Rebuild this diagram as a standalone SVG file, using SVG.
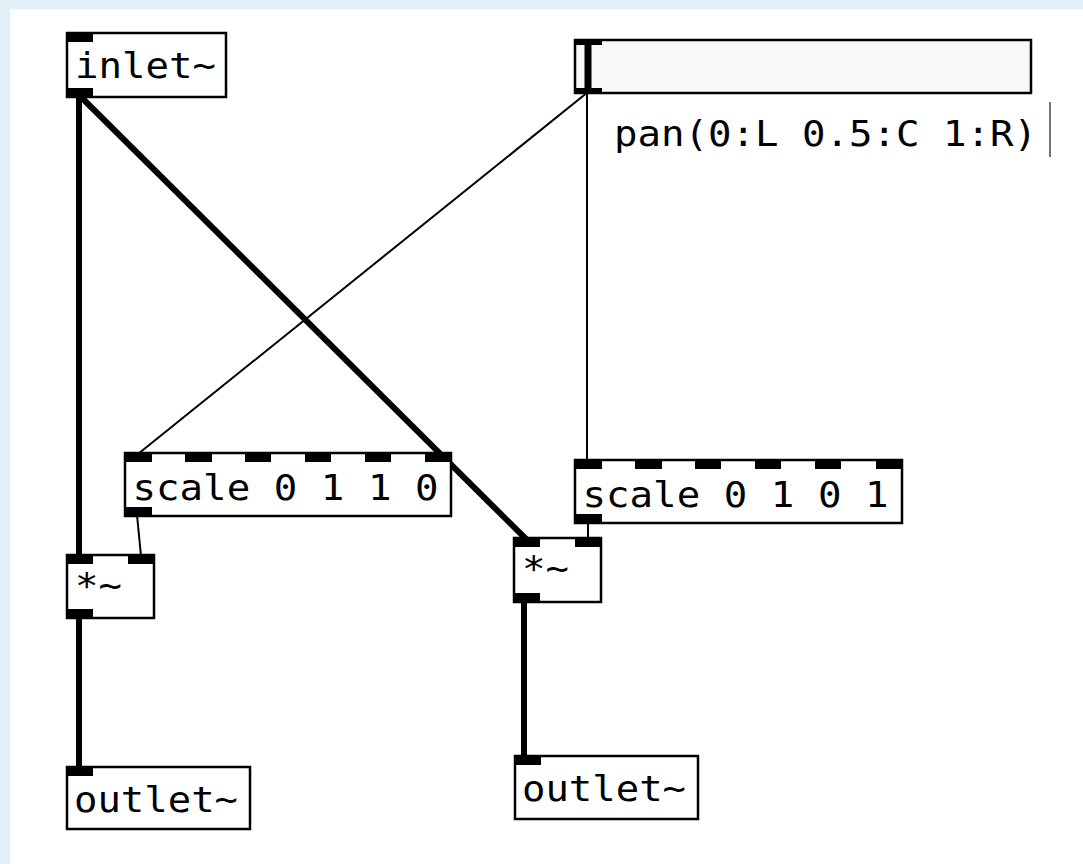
<svg xmlns="http://www.w3.org/2000/svg" width="1083" height="864" viewBox="0 0 1083 864">
<style>
.box{fill:#fff;stroke:#000;stroke-width:2.5}
.tab{fill:#000}
.t{font-family:"DejaVu Sans Mono","Liberation Mono",monospace;font-size:35px;fill:#000}
.thin{stroke:#000;stroke-width:2;fill:none}
.thick{stroke:#000;stroke-width:6;fill:none}
</style>
<rect width="1083" height="864" fill="#e3f0f8"/>
<rect x="10" y="9" width="1073" height="855" fill="#fff"/>
<g id="connectors">
<line class="thick" x1="79" y1="96" x2="79" y2="556"/>
<line class="thick" x1="80" y1="96" x2="526" y2="539"/>
<line class="thin" x1="588" y1="92" x2="138" y2="454"/>
<line class="thin" x1="587" y1="92" x2="587" y2="461"/>
<line class="thin" x1="137" y1="515" x2="141" y2="556"/>
<line class="thin" x1="588" y1="522" x2="588" y2="539"/>
<line class="thick" x1="79" y1="617" x2="79" y2="768"/>
<line class="thick" x1="524" y1="601" x2="524" y2="757"/>
</g>
<g id="inlet">
<rect class="box" x="67" y="33" width="159" height="64"/>
<rect class="tab" x="67" y="33" width="26" height="9"/>
<rect class="tab" x="67" y="88" width="26" height="9"/>
<text class="t" x="75" y="78" textLength="141" lengthAdjust="spacingAndGlyphs">inlet~</text>
</g>
<g id="slider">
<rect x="575" y="40" width="456" height="53" fill="#f8f8f8" stroke="#000" stroke-width="2.5"/>
<rect class="tab" x="575" y="40" width="27" height="5"/>
<rect class="tab" x="575" y="88" width="27" height="5"/>
<rect class="tab" x="584.5" y="40" width="7" height="53"/>
<text class="t" x="614" y="146" textLength="423" lengthAdjust="spacingAndGlyphs">pan(0:L 0.5:C 1:R)</text>
<line x1="1050" y1="102" x2="1050" y2="157" stroke="#444" stroke-width="1.5"/>
</g>
<g id="scale1">
<rect class="box" x="125" y="453" width="326" height="63"/>
<rect class="tab" x="125" y="453" width="27" height="9"/>
<rect class="tab" x="185" y="453" width="27" height="9"/>
<rect class="tab" x="245" y="453" width="26" height="9"/>
<rect class="tab" x="305" y="453" width="26" height="9"/>
<rect class="tab" x="365" y="453" width="26" height="9"/>
<rect class="tab" x="425" y="453" width="26" height="9"/>
<rect class="tab" x="125" y="507" width="27" height="9"/>
<text class="t" x="132.5" y="500" textLength="306" lengthAdjust="spacingAndGlyphs">scale 0 1 1 0</text>
</g>
<g id="scale2">
<rect class="box" x="575" y="460" width="327" height="63"/>
<rect class="tab" x="575" y="460" width="27" height="9"/>
<rect class="tab" x="635" y="460" width="27" height="9"/>
<rect class="tab" x="695" y="460" width="26" height="9"/>
<rect class="tab" x="755" y="460" width="26" height="9"/>
<rect class="tab" x="815" y="460" width="26" height="9"/>
<rect class="tab" x="876" y="460" width="26" height="9"/>
<rect class="tab" x="575" y="514" width="27" height="9"/>
<text class="t" x="582.5" y="507" textLength="306" lengthAdjust="spacingAndGlyphs">scale 0 1 0 1</text>
</g>
<g id="mul1">
<rect class="box" x="67" y="555" width="87" height="63"/>
<rect class="tab" x="67" y="555" width="26" height="9"/>
<rect class="tab" x="128" y="555" width="26" height="9"/>
<rect class="tab" x="67" y="609" width="26" height="9"/>
<text class="t" x="75" y="598" textLength="47" lengthAdjust="spacingAndGlyphs">*~</text>
</g>
<g id="mul2">
<rect class="box" x="514" y="538" width="87" height="64"/>
<rect class="tab" x="514" y="538" width="26" height="9"/>
<rect class="tab" x="575" y="538" width="26" height="9"/>
<rect class="tab" x="514" y="593" width="26" height="9"/>
<text class="t" x="522" y="581" textLength="47" lengthAdjust="spacingAndGlyphs">*~</text>
</g>
<g id="outlet1">
<rect class="box" x="67" y="767" width="183" height="62"/>
<rect class="tab" x="67" y="767" width="26" height="9"/>
<text class="t" x="74" y="812" textLength="164" lengthAdjust="spacingAndGlyphs">outlet~</text>
</g>
<g id="outlet2">
<rect class="box" x="515" y="756" width="183" height="63"/>
<rect class="tab" x="515" y="756" width="26" height="9"/>
<text class="t" x="522" y="801" textLength="164" lengthAdjust="spacingAndGlyphs">outlet~</text>
</g>
</svg>
